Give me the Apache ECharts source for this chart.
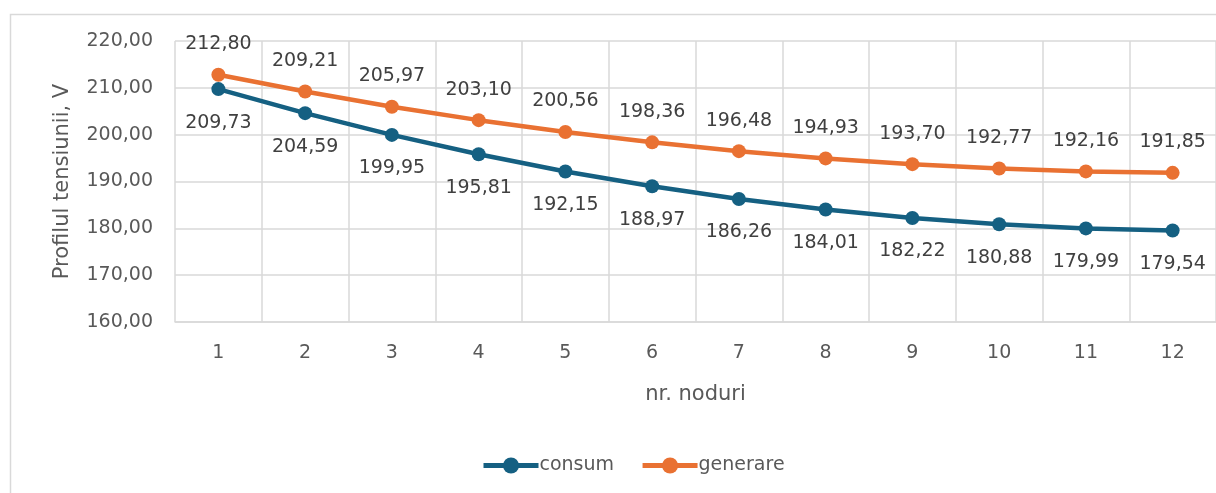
<!DOCTYPE html>
<html>
<head>
<meta charset="utf-8">
<script src="https://cdn.jsdelivr.net/npm/echarts@6/dist/echarts.min.js"></script>
<style>
  html, body { margin: 0; padding: 0; background: #fff; }
  #chart { width: 1216px; height: 493px; }
</style>
</head>
<body>
<div id="chart"></div>
<script>
// date
const noduri = ['1', '2', '3', '4', '5', '6', '7', '8', '9', '10', '11', '12']
const consum = [209.73, 204.59, 199.95, 195.81, 192.15, 188.97, 186.26, 184.01, 182.22, 180.88, 179.99, 179.54]
const generare = [212.80, 209.21, 205.97, 203.10, 200.56, 198.36, 196.48, 194.93, 193.70, 192.77, 192.16, 191.85]
const yMin = 160
const yMax = 220
const yStep = 10

const FONT = 'DejaVu Sans'
const TEXT = '#595959'
const GRID = '#d9d9d9'

const fmt = (v) => Number(v).toFixed(2).replace('.', ',')

const chart = echarts.init(document.getElementById('chart'))

const lineSeries = (name, data, color, pos, dist) => ({
  name: name,
  type: 'line',
  data: data,
  symbol: 'circle',
  symbolSize: 14,
  lineStyle: { color: color, width: 4.5 },
  itemStyle: { color: color },
  label: {
    show: true,
    position: pos,
    distance: dist,
    formatter: (p) => fmt(p.value),
    color: '#404040',
    fontFamily: FONT,
    fontSize: 19,
  },
  emphasis: { disabled: true },
  animation: false,
})

chart.setOption({
  animation: false,
  graphic: [
    {
      type: 'rect',
      left: 8,
      top: 12,
      shape: { width: 1300, height: 600 },
      style: { fill: 'none', stroke: GRID, lineWidth: 1.5 },
      silent: true,
    },
  ],
  grid: {
    left: 175,
    top: 41,
    width: 1050,
    height: 281,
  },
  legend: {
    left: 476,
    top: 451,
    itemWidth: 55,
    itemHeight: 20,
    itemGap: 26,
    data: ['consum', 'generare'],
    lineStyle: { width: 5 },
    textStyle: { color: TEXT, fontFamily: FONT, fontSize: 19, padding: [0, 0, 0, -4] },
  },
  xAxis: {
    type: 'category',
    data: noduri,
    boundaryGap: true,
    name: 'nr. noduri',
    nameLocation: 'middle',
    nameGap: 62,
    nameTextStyle: { color: TEXT, fontFamily: FONT, fontSize: 21 },
    axisLine: { show: true, lineStyle: { color: GRID, width: 1.5 } },
    axisTick: { show: false },
    axisLabel: { color: TEXT, fontFamily: FONT, fontSize: 19, margin: 22 },
    splitLine: { show: true, lineStyle: { color: GRID, width: 1.5 } },
  },
  yAxis: {
    type: 'value',
    min: yMin,
    max: yMax,
    interval: yStep,
    name: 'Profilul tensiunii, V',
    nameLocation: 'middle',
    nameGap: 102,
    nameTextStyle: { color: TEXT, fontFamily: FONT, fontSize: 21 },
    axisLine: { show: false },
    axisTick: { show: false },
    axisLabel: { color: TEXT, fontFamily: FONT, fontSize: 19, margin: 22, formatter: fmt },
    splitLine: { show: true, lineStyle: { color: GRID, width: 1.5 } },
  },
  series: [
    lineSeries('consum', consum, '#156082', 'bottom', 17),
    lineSeries('generare', generare, '#E97132', 'top', 14),
  ],
})
</script>
</body>
</html>
